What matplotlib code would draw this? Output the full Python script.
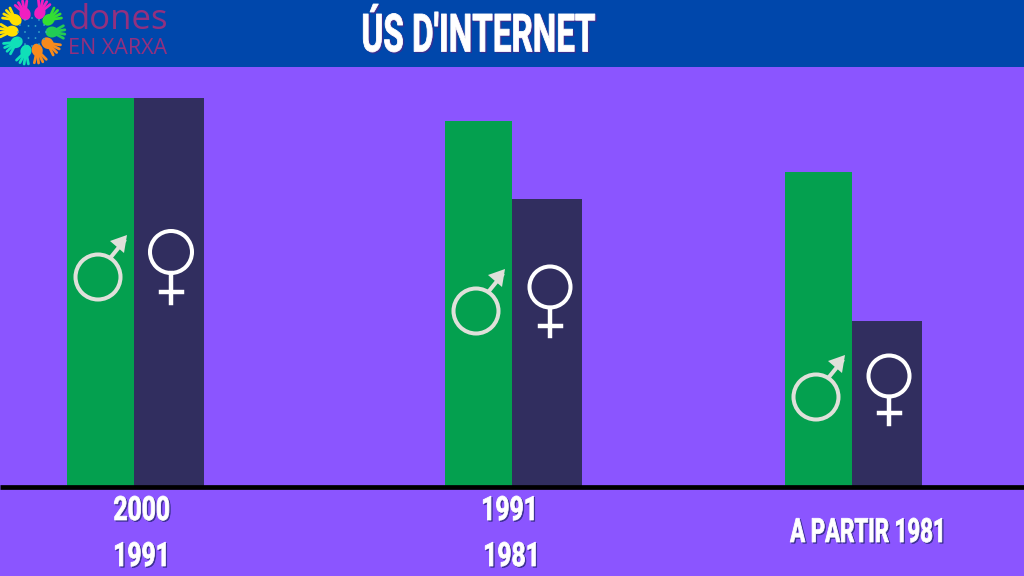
import matplotlib
matplotlib.use('Agg')
import matplotlib.pyplot as plt
import matplotlib.patheffects as pe
from matplotlib.colors import to_rgb
from matplotlib.patches import Circle, Ellipse, Rectangle, Polygon
from matplotlib.transforms import Affine2D
import math

groups = ['2000 / 1991', '1991 / 1981', 'A PARTIR 1981']
men = [100, 94, 81]
women = [100, 74, 42.4]

BG = '#8b55ff'
HEADER = '#0047ab'
GREEN = '#04a04f'
DARK = '#312e5f'
CREAM = '#e0e0da'
LOGO = '#93307f'
FONT = ['Roboto', 'DejaVu Sans']

men_left = [67, 445, 785]
women_left = [134, 512, 852]
men_w = 67
women_w = 69.8

# px per value unit, baseline at y=486
scale = 3.88
base = 486

# hands of the logo: x, y, colour
hands = [(24, 11, '#f01fc0'), (41, 10, '#f01fc0'), (51, 18, '#33dd33'), (55, 32, '#22cc55'),
         (50, 45, '#f88a1c'), (38, 53, '#f88a1c'), (25, 54, '#10e0b8'), (14, 44, '#10e0b8'),
         (9, 31, '#ffe000'), (13, 18, '#ffe000')]


class Squeeze(pe.AbstractPathEffect):
    # no condensed font here, so squeeze the glyphs around their centre
    def __init__(self, sx, dx=0, dy=0, color='white', lw=0.6):
        super().__init__()
        self.sx, self.dx, self.dy, self.lw = sx, dx, dy, lw
        self.color = to_rgb(color)

    def draw_path(self, renderer, gc, tpath, affine, rgbFace=None):
        e = tpath.get_extents()
        mid = (e.x0 + e.x1) / 2
        t = Affine2D().translate(-mid, 0).scale(self.sx, 1).translate(mid, 0)
        t = t + affine + Affine2D().translate(self.dx, self.dy)
        gc0 = renderer.new_gc()
        gc0.copy_properties(gc)
        gc0.set_foreground(self.color)
        gc0.set_linewidth(self.lw)
        renderer.draw_path(gc0, tpath, t, self.color)
        gc0.restore()


def male(ax, cx, cy, r=22.5):
    ax.add_patch(Circle((cx, cy), r, fill=False, ec=CREAM, lw=2.9, zorder=5))
    ax.plot([cx + 13, cx + 26], [cy - 20, cy - 36], c=CREAM, lw=2.9, zorder=5)
    ax.add_patch(Polygon([(cx + 12, cy - 36), (cx + 29, cy - 42), (cx + 26, cy - 24)],
                         closed=True, fc=CREAM, ec='none', zorder=5))


def female(ax, cx, cy, r, cross, stem):
    ax.add_patch(Circle((cx, cy), r, fill=False, ec='white', lw=2.9, zorder=5))
    ax.plot([cx, cx], [cy + r, cy + stem], c='white', lw=3.2, zorder=5)
    ax.plot([cx - 10, cx + 11], [cy + cross, cy + cross], c='white', lw=3.2, zorder=5)


def label(ax, x, y, s, sx, size=24):
    ax.text(x, y, s, color='white', fontsize=size, fontweight='bold', family=FONT,
            ha='center', va='center', zorder=6,
            path_effects=[Squeeze(sx, 1.3, -1.2, '#3a2f90'), Squeeze(sx)])


def hand(ax, x, y, c):
    ang = math.atan2(y - 32, x - 32)
    ux, uy = math.cos(ang), math.sin(ang)
    px, py = x - 3 * ux, y - 3 * uy
    ax.add_patch(Ellipse((px, py), 13, 11, angle=math.degrees(ang), fc=c, ec='none', zorder=2))
    for spread in [-0.5, -0.17, 0.17, 0.5]:
        a = ang + spread
        ax.plot([px, px + 13 * math.cos(a)], [py, py + 13 * math.sin(a)],
                c=c, lw=2, zorder=2, solid_capstyle='round')


fig = plt.figure(figsize=(10.24, 5.76), dpi=100, facecolor=BG)
ax = fig.add_axes([0, 0, 1, 1])
ax.set_xlim(0, 1024)
ax.set_ylim(576, 0)
ax.axis('off')

# bars, y is inverted so heights go up from the baseline
for i in range(len(groups)):
    ax.bar(men_left[i], -men[i] * scale, men_w, bottom=base, align='edge', color=GREEN, zorder=2)
    ax.bar(women_left[i], -women[i] * scale, women_w, bottom=base, align='edge', color=DARK, zorder=2)

ax.add_patch(Rectangle((0, 0), 1024, 67, fc=HEADER, ec='none', zorder=1))
ax.plot([0, 1024], [487.3, 487.3], c='black', lw=3.4, zorder=3, solid_capstyle='butt')

male(ax, 98, 277)
female(ax, 171, 252, 21, 40, 51)
male(ax, 476, 311)
female(ax, 550, 287, 20.5, 39, 49)
male(ax, 816, 397)
female(ax, 889, 376, 20.5, 37, 48)

# logo
for x, y, c in hands:
    hand(ax, x, y, c)
for rad, n in [(7, 6), (14, 12)]:
    for k in range(n):
        t = 2 * math.pi * k / n
        ax.add_patch(Circle((32 + rad * math.cos(t), 32 + rad * math.sin(t)), 0.9, fc='#38a8c8', ec='none', zorder=2))
ax.text(68, 20, 'dones', color=LOGO, fontsize=25, family=['Open Sans', 'DejaVu Sans'], ha='left', va='center', zorder=2)
ax.text(68, 48, 'EN XARXA', color=LOGO, fontsize=15.5, family=['Open Sans', 'DejaVu Sans'], ha='left', va='center', zorder=2)

label(ax, 478, 37, "ÚS D'INTERNET", 0.63, size=38)
label(ax, 142, 511, '2000', 0.74)
label(ax, 142, 557, '1991', 0.74)
label(ax, 510, 511, '1991', 0.74)
label(ax, 512, 557, '1981', 0.74)
label(ax, 869, 533, 'A PARTIR 1981', 0.67)

fig.savefig('out.png', dpi=100, facecolor=BG)
